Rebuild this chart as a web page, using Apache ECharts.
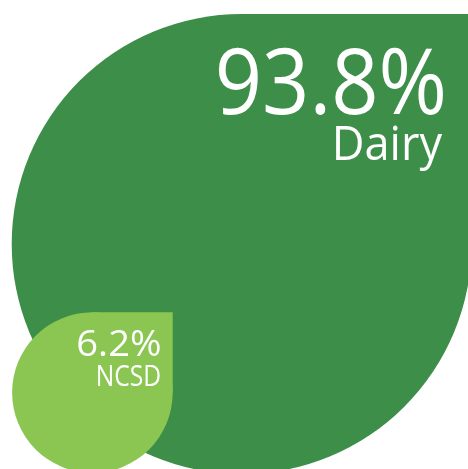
<!DOCTYPE html>
<html>
<head>
<meta charset="utf-8">
<script src="https://cdn.jsdelivr.net/npm/echarts@6/dist/echarts.min.js"></script>
<style>
  html, body { margin: 0; padding: 0; background: #ffffff; }
  #chart { width: 468px; height: 469px; }
</style>
</head>
<body>
<div id="chart"></div>
<script>
// ---- data ----
const categories = ['Dairy', 'NCSD'];
const shares = [93.8, 6.2];

// ---- layout (pixel space of a full-canvas hidden grid) ----
const leafLayout = [
  { cx: 241.7, cy: 244, r: 230, color: '#3c8e48',
    valueFont: 92, valueRight: 447, valueMid: 87.5, valueScale: 0.9,
    nameFont: 48, nameRight: 442, nameMid: 146.5, nameScale: 0.94 },
  { cx: 92.4, cy: 392.6, r: 80.3, color: '#8cc652',
    valueFont: 36, valueRight: 161.5, valueMid: 346, valueScale: 1.06,
    nameFont: 30, nameRight: 161, nameMid: 377.5, nameScale: 0.82 }
];

const chart = echarts.init(document.getElementById('chart'), null, { renderer: 'canvas' });

const seriesData = categories.map((c, i) => ({ name: c, value: [i, shares[i]] }));

chart.setOption({
  backgroundColor: '#ffffff',
  animation: false,
  grid: { left: 0, right: 0, top: 0, bottom: 0 },
  xAxis: { type: 'value', min: 0, max: 468, show: false },
  yAxis: { type: 'value', min: 0, max: 469, inverse: true, show: false },
  series: [{
    type: 'custom',
    coordinateSystem: 'cartesian2d',
    data: seriesData,
    renderItem: function (params, api) {
      const i = api.value(0);
      const v = api.value(1);
      const L = leafLayout[i];
      const c = api.coord([L.cx, L.cy]);
      const edge = api.coord([L.cx + L.r, L.cy]);
      const r = edge[0] - c[0];
      const vp = api.coord([L.valueRight, L.valueMid]);
      const np = api.coord([L.nameRight, L.nameMid]);
      const font = 'Open Sans';
      return {
        type: 'group',
        children: [
          { type: 'circle', shape: { cx: c[0], cy: c[1], r: r }, style: { fill: L.color } },
          { type: 'rect', shape: { x: c[0], y: c[1] - r, width: r, height: r }, style: { fill: L.color } },
          { type: 'text', x: vp[0], y: vp[1], scaleX: L.valueScale,
            style: { text: v.toFixed(1) + '%', x: 0, y: 0, align: 'right', verticalAlign: 'middle',
                     fill: '#ffffff', fontFamily: font, fontSize: L.valueFont, fontWeight: 400 } },
          { type: 'text', x: np[0], y: np[1], scaleX: L.nameScale,
            style: { text: categories[i], x: 0, y: 0, align: 'right', verticalAlign: 'middle',
                     fill: '#ffffff', fontFamily: font, fontSize: L.nameFont, fontWeight: 400 } }
        ]
      };
    }
  }]
});
</script>
</body>
</html>
